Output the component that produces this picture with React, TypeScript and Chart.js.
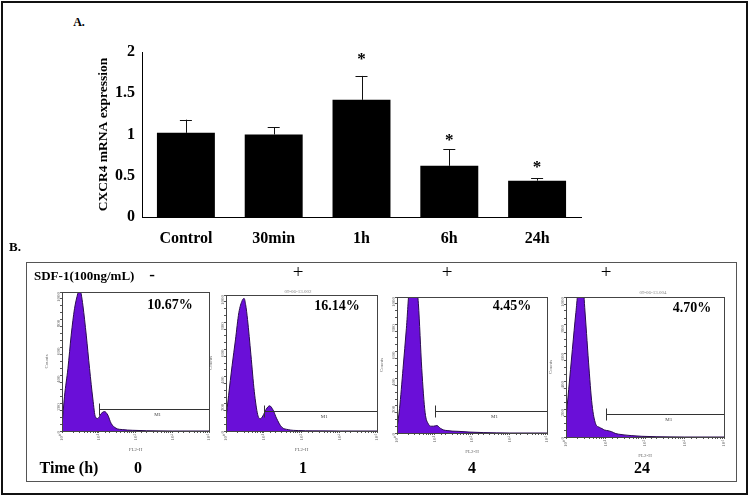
import React, { useEffect, useRef } from 'react';
import { Chart, registerables } from 'chart.js';

Chart.register(...registerables);

const SERIF = '"Liberation Serif", "Times New Roman", Times, serif';

// ---------- Panel A data ----------
const categories = ['Control', '30min', '1h', '6h', '24h'];
const expression = [1.02, 1.0, 1.42, 0.62, 0.44];
const errorUpper = [0.16, 0.09, 0.29, 0.2, 0.03];
const starLevel: (number | null)[] = [null, null, 1.96, 0.97, 0.65];
const yMax = 2;
const yStep = 0.5;

// ---------- Panel B data ----------
const fl2h = [1, 1.17, 1.45, 1.78, 2.19, 2.69, 3.02, 3.31, 3.72, 4.57, 5.62, 6.92, 8.13, 9.44, 11.6, 14.3, 17.6, 21.7, 29.5, 44.7, 83.2, 200, 1000, 10000];
const counts0h = [40, 250, 450, 690, 880, 990, 1040, 990, 900, 690, 450, 230, 100, 90, 125, 140, 115, 55, 20, 10, 5, 2, 0, 0];
const counts1h = [90, 260, 480, 670, 870, 960, 975, 930, 820, 560, 290, 120, 90, 110, 160, 185, 155, 95, 30, 10, 3, 1, 0, 0];
const counts4h = [35, 180, 475, 770, 1080, 1100, 1100, 1080, 950, 475, 150, 65, 50, 50, 55, 35, 22, 18, 14, 12, 7, 3, 0, 0];
const counts24h = [130, 340, 625, 890, 1100, 1080, 900, 740, 535, 230, 95, 70, 60, 50, 45, 38, 26, 20, 15, 10, 5, 2, 0, 0];
const timeLabels = ['0', '1', '4', '24'];
const sdfSigns = ['-', '+', '+', '+'];
const m1Percent = ['10.67%', '16.14%', '4.45%', '4.70%'];
const m1Level = [160, 150, 165, 165];
const m1Start = 10;
const m1End = 10000;
const logTickLabels = ['10⁰', '10¹', '10²', '10³', '10⁴'];
const countTickLabels = [0, 200, 400, 600, 800, 1000];
const headerTexts = ['', '09-06-13.002', '', '09-06-13.004'];

// ---------- layout (positions only) ----------
const plotBoxes = [
  { left: 62, top: 292, width: 148, height: 139 },
  { left: 226, top: 295, width: 152, height: 136 },
  { left: 397, top: 297, width: 151, height: 136 },
  { left: 566, top: 297, width: 159, height: 140 },
];
const allCounts = [counts0h, counts1h, counts4h, counts24h];
const pctPos = [[170, 305], [337, 306], [512, 306], [692, 308]];
const signPos = [[152, 274], [298, 271], [447, 271], [606, 271]];
const timePos = [[138, 468], [303, 468], [472, 468], [642, 468]];
const headerPos = [[0, 0], [298, 291], [0, 0], [653, 292]];

function BarPanel() {
  const ref = useRef<HTMLCanvasElement | null>(null);
  useEffect(() => {
    const errPlugin = {
      id: 'errStars',
      afterDatasetsDraw(chart: any) {
        const ctx = chart.ctx;
        const y = chart.scales.y;
        const meta = chart.getDatasetMeta(0);
        ctx.save();
        meta.data.forEach((bar: any, i: number) => {
          const x = bar.x;
          const pTop = y.getPixelForValue(expression[i]);
          const pErr = y.getPixelForValue(expression[i] + errorUpper[i]);
          ctx.strokeStyle = '#111';
          ctx.lineWidth = 1;
          ctx.beginPath();
          ctx.moveTo(Math.round(x) + 0.5, pTop);
          ctx.lineTo(Math.round(x) + 0.5, pErr);
          ctx.moveTo(x - 6, Math.round(pErr) + 0.5);
          ctx.lineTo(x + 6, Math.round(pErr) + 0.5);
          ctx.stroke();
          const s = starLevel[i];
          if (s !== null) {
            ctx.fillStyle = '#000';
            ctx.font = `bold 17px ${SERIF}`;
            ctx.textAlign = 'center';
            ctx.textBaseline = 'middle';
            ctx.fillText('*', x, y.getPixelForValue(s) + 4);
          }
        });
        ctx.restore();
      },
    };
    const chart = new Chart(ref.current as HTMLCanvasElement, {
      type: 'bar',
      data: {
        labels: categories,
        datasets: [{
          data: expression,
          backgroundColor: '#000',
          borderWidth: 0,
          barPercentage: 0.66,
          categoryPercentage: 1,
        }],
      },
      options: {
        animation: false,
        responsive: false,
        maintainAspectRatio: false,
        layout: { padding: { left: 91, top: 52, right: 19, bottom: 0 } },
        plugins: { legend: { display: false }, tooltip: { enabled: false } },
        scales: {
          x: {
            afterFit: (s: any) => { s.height = 43; },
            grid: { display: false, drawTicks: false },
            border: { display: true, color: '#000', width: 1 },
            ticks: { color: '#000', padding: 12, font: { family: SERIF, size: 16, weight: 'bold' } },
          },
          y: {
            min: 0,
            max: yMax,
            afterFit: (s: any) => { s.width = 51; },
            grid: { display: false, drawTicks: false },
            border: { display: true, color: '#000', width: 1 },
            ticks: {
              stepSize: yStep, color: '#000', padding: 7,
              font: { family: SERIF, size: 16, weight: 'bold' },
              callback: (v: any) => String(Number(v)),
            },
            title: { display: true, text: 'CXCR4 mRNA expression', color: '#000', font: { family: SERIF, size: 13.5, weight: 'bold' } },
          },
        },
      },
      plugins: [errPlugin],
    } as any);
    return () => chart.destroy();
  }, []);
  return <canvas ref={ref} width={600} height={260} style={{ position: 'absolute', left: 0, top: 0, width: 600, height: 260 }} />;
}

function Histogram({ idx }: { idx: number }) {
  const ref = useRef<HTMLCanvasElement | null>(null);
  const box = plotBoxes[idx];
  const padL = 18, padT = 10, padR = 6, padB = 22;
  const w = box.width + padL + padR;
  const h = box.height + padT + padB;
  useEffect(() => {
    const counts = allCounts[idx];
    const framePlugin = {
      id: 'frameGate',
      afterDatasetsDraw(chart: any) {
        const ctx = chart.ctx;
        const a = chart.chartArea;
        const xs = chart.scales.x;
        const ys = chart.scales.y;
        ctx.save();
        ctx.strokeStyle = '#444';
        ctx.lineWidth = 1;
        ctx.strokeRect(Math.round(a.left) + 0.5, Math.round(a.top) + 0.5, Math.round(a.right - a.left), Math.round(a.bottom - a.top));
        const gy = Math.round(ys.getPixelForValue(m1Level[idx])) + 0.5;
        const gx0 = Math.round(xs.getPixelForValue(m1Start)) + 0.5;
        const gx1 = xs.getPixelForValue(m1End);
        ctx.strokeStyle = '#333';
        ctx.beginPath();
        ctx.moveTo(gx0, gy);
        ctx.lineTo(gx1, gy);
        ctx.moveTo(gx0, gy - 6);
        ctx.lineTo(gx0, gy + 6);
        ctx.stroke();
        ctx.fillStyle = '#444';
        ctx.font = `5px ${SERIF}`;
        ctx.textAlign = 'center';
        ctx.textBaseline = 'top';
        ctx.fillText('M1', xs.getPixelForValue(400), gy + 3);
        ctx.restore();
      },
    };
    const chart = new Chart(ref.current as HTMLCanvasElement, {
      type: 'line',
      data: {
        datasets: [{
          data: fl2h.map((x, i) => ({ x, y: counts[i] })),
          fill: 'origin',
          backgroundColor: '#6a0fd8',
          borderColor: '#2a0b50',
          borderWidth: 1,
          pointRadius: 0,
          cubicInterpolationMode: 'monotone',
        }],
      },
      options: {
        animation: false,
        responsive: false,
        maintainAspectRatio: false,
        layout: { padding: { left: 0, top: padT, right: padR, bottom: 0 } },
        plugins: { legend: { display: false }, tooltip: { enabled: false } },
        scales: {
          x: {
            type: 'logarithmic',
            min: 1,
            max: 10000,
            afterFit: (s: any) => { s.height = padB; },
            grid: { display: true, drawOnChartArea: false, drawTicks: true, tickLength: 2, color: '#555' },
            border: { display: true, color: '#444' },
            ticks: {
              autoSkip: false, minRotation: 90, maxRotation: 90, padding: 1, color: '#666',
              font: { family: SERIF, size: 5 },
              callback: (v: any) => {
                const e = Math.log10(Number(v));
                return Math.abs(e - Math.round(e)) < 1e-6 ? logTickLabels[Math.round(e)] : '';
              },
            },
            title: { display: true, text: 'FL2-H', color: '#666', padding: 0, font: { family: SERIF, size: 5 } },
          },
          y: {
            min: 0,
            max: 1000,
            afterFit: (s: any) => { s.width = padL; },
            grid: { display: true, drawOnChartArea: false, drawTicks: true, tickLength: 2, color: '#555' },
            border: { display: true, color: '#444' },
            ticks: {
              stepSize: 50, autoSkip: false, minRotation: 90, maxRotation: 90, padding: 1, color: '#666',
              font: { family: SERIF, size: 5 },
              callback: (v: any) => (countTickLabels.includes(Number(v)) ? String(v) : ''),
            },
            title: { display: true, text: 'Counts', color: '#666', padding: 0, font: { family: SERIF, size: 5 } },
          },
        },
      },
      plugins: [framePlugin],
    } as any);
    return () => chart.destroy();
  }, [idx]);
  return (
    <canvas
      ref={ref}
      width={w}
      height={h}
      style={{ position: 'absolute', left: box.left - padL, top: box.top - padT, width: w, height: h }}
    />
  );
}

function Txt({ x, y, size, bold = true, children, align = 'center', color = '#000' }: any) {
  const tx = align === 'center' ? '-50%' : '0';
  return (
    <div
      style={{
        position: 'absolute', left: x, top: y, transform: `translate(${tx}, -50%)`,
        fontFamily: SERIF, fontSize: size, fontWeight: bold ? 'bold' : 'normal', color,
        whiteSpace: 'nowrap', lineHeight: 1,
      }}
    >
      {children}
    </div>
  );
}

export default function App() {
  return (
    <div style={{ position: 'absolute', left: 0, top: 0, width: 749, height: 496, background: '#fff', overflow: 'hidden' }}>
      <div style={{ position: 'absolute', left: 1, top: 1, width: 743, height: 490, border: '2px solid #111' }} />
      <Txt x={79} y={22} size={12}>A.</Txt>
      <BarPanel />
      <Txt x={15} y={246} size={13}>B.</Txt>
      <div style={{ position: 'absolute', left: 26, top: 262, width: 709, height: 218, border: '1px solid #555' }} />
      <Txt x={34} y={275} size={13} align="left">SDF-1(100ng/mL)</Txt>
      {sdfSigns.map((s, i) => (
        <Txt key={'s' + i} x={signPos[i][0]} y={signPos[i][1]} size={s === '+' ? 19 : 17} bold={s === '-'}>{s}</Txt>
      ))}
      {plotBoxes.map((_, i) => <Histogram key={'h' + i} idx={i} />)}
      {m1Percent.map((p, i) => (
        <Txt key={'p' + i} x={pctPos[i][0]} y={pctPos[i][1]} size={14}>{p}</Txt>
      ))}
      {headerTexts.map((t, i) => (t ? (
        <div key={'hd' + i} style={{ position: 'absolute', left: headerPos[i][0], top: headerPos[i][1], transform: 'translate(-50%, -50%) scale(0.5)', fontFamily: SERIF, fontSize: 10, color: '#888', whiteSpace: 'nowrap' }}>{t}</div>
      ) : null))}
      <Txt x={69} y={468} size={16}>Time (h)</Txt>
      {timeLabels.map((t, i) => (
        <Txt key={'t' + i} x={timePos[i][0]} y={timePos[i][1]} size={16}>{t}</Txt>
      ))}
    </div>
  );
}
